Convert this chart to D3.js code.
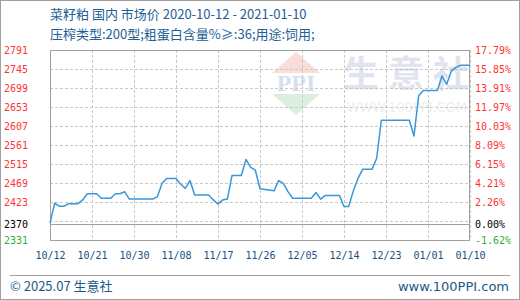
<!DOCTYPE html>
<html><head><meta charset="utf-8">
<script src="https://cdn.jsdelivr.net/npm/d3@7"></script>
<style>
html,body{margin:0;padding:0;background:#fff;}
svg{display:block;}
</style></head>
<body>
<svg id="c" width="520" height="300"></svg>
<script>
const titleText = "菜籽粕 国内 市场价 2020-10-12 - 2021-01-10";
const subText = "压榨类型:200型;粗蛋白含量%≥:36;用途:饲用;";
const dates = ["2020-10-12","2020-10-13","2020-10-14","2020-10-15","2020-10-16","2020-10-18","2020-10-19","2020-10-20","2020-10-22","2020-10-23","2020-10-25","2020-10-26","2020-10-27","2020-10-28","2020-10-29","2020-11-03","2020-11-04","2020-11-05","2020-11-06","2020-11-08","2020-11-09","2020-11-10","2020-11-11","2020-11-12","2020-11-15","2020-11-16","2020-11-17","2020-11-18","2020-11-19","2020-11-20","2020-11-22","2020-11-23","2020-11-24","2020-11-25","2020-11-26","2020-11-29","2020-11-30","2020-12-01","2020-12-02","2020-12-03","2020-12-07","2020-12-08","2020-12-09","2020-12-10","2020-12-13","2020-12-14","2020-12-15","2020-12-16","2020-12-17","2020-12-18","2020-12-20","2020-12-21","2020-12-22","2020-12-28","2020-12-29","2020-12-30","2020-12-31","2021-01-03","2021-01-04","2021-01-05","2021-01-06","2021-01-07","2021-01-08","2021-01-10"];
const prices = [2372,2420,2413,2413,2419,2419,2428,2443,2443,2432,2432,2443,2443,2448,2430,2430,2436,2468,2480,2480,2466,2456,2475,2440,2440,2428,2418,2428,2430,2487,2487,2526,2507,2500,2455,2450,2475,2468,2448,2432,2432,2446,2430,2439,2439,2412,2412,2450,2480,2502,2502,2529,2621,2621,2583,2680,2693,2693,2728,2708,2740,2749,2754,2754];
const xTickDates = ["2020-10-12","2020-10-21","2020-10-30","2020-11-08","2020-11-17","2020-11-26","2020-12-05","2020-12-14","2020-12-23","2021-01-01","2021-01-10"];
const xTickLabels = ["10/12","10/21","10/30","11/08","11/17","11/26","12/05","12/14","12/23","01/01","01/10"];
const yGridValues = [2791,2745,2699,2653,2607,2561,2515,2469,2423,2377];
const yTickValues = [2791,2745,2699,2653,2607,2561,2515,2469,2423,2370,2331];
const yTickLabels = ["2791","2745","2699","2653","2607","2561","2515","2469","2423","2370","2331"];
const pctLabels = ["17.79%","15.85%","13.91%","11.97%","10.03%","8.09%","6.15%","4.21%","2.26%","0.00%","-1.62%"];
const watermarkChars = ["生","意","社"];
const baseValue = 2370;
const yMin = 2331, yMax = 2791;

const parse = d3.timeParse("%Y-%m-%d");
const data = dates.map((d,i)=>({date:parse(d), v:prices[i]}));

const svg = d3.select("#c");
const L=50, R=470, T=50, B=240;
const x = d3.scaleTime().domain([parse("2020-10-12"), parse("2021-01-10")]).range([L,R]);
const y = d3.scaleLinear().domain([yMin,yMax]).range([B,T]);

// outer frame
svg.append("rect").attr("x",0.5).attr("y",0.5).attr("width",519).attr("height",299)
  .attr("fill","#fff").attr("stroke","#a0a0a0");

// watermark
const wm = svg.append("g");
wm.append("path").attr("d","M296,52 L320,73 L272,73 Z").attr("fill","#f9ddd6");
wm.append("text").attr("x",296).attr("y",91).attr("text-anchor","middle")
  .attr("font-family","Liberation Serif, serif").attr("font-weight","bold").attr("font-size",24)
  .attr("fill","#d8dfec").text("PPI");
wm.append("path").attr("d","M272,94 L320,94 L296,115 Z").attr("fill","#daefdf");
wm.selectAll("text.wc").data(watermarkChars).join("text").attr("class","wc")
  .attr("x",(d,i)=>361+i*45).attr("y",87).attr("text-anchor","middle")
  .attr("font-family","Noto Sans CJK SC").attr("font-weight","bold").attr("font-size",36)
  .attr("fill","#dfe4ee").text(d=>d);
wm.append("text").attr("x",347).attr("y",112)
  .attr("font-family","DejaVu Sans").attr("font-size",14).attr("textLength",120).attr("lengthAdjust","spacingAndGlyphs")
  .attr("fill","#eeeeee").text("WWW.100PPI.COM");

// grid
const grid = svg.append("g").attr("stroke","#c8c8c8").attr("stroke-dasharray","3,2").attr("stroke-width",1);
grid.selectAll("line.h").data(yGridValues).join("line")
  .attr("x1",L).attr("x2",R).attr("y1",d=>Math.round(y(d))+0.5).attr("y2",d=>Math.round(y(d))+0.5);
grid.selectAll("line.v").data(xTickDates).join("line")
  .attr("y1",T).attr("y2",B).attr("x1",d=>Math.round(x(parse(d)))+0.5).attr("x2",d=>Math.round(x(parse(d)))+0.5);

// base line
svg.append("line").attr("x1",L).attr("x2",R)
  .attr("y1",Math.round(y(baseValue))+0.5).attr("y2",Math.round(y(baseValue))+0.5)
  .attr("stroke","#a0a0a0");

// plot frame
svg.append("rect").attr("x",L+0.5).attr("y",T+0.5).attr("width",R-L-1).attr("height",B-T)
  .attr("fill","none").attr("stroke","#a0a0a0");

// line
svg.append("path").datum(data)
  .attr("d", d3.line().x(d=>x(d.date)).y(d=>y(d.v)))
  .attr("fill","none").attr("stroke","#3a98d8").attr("stroke-width",1.5).attr("stroke-linejoin","round");

// y labels
const colorFor = (i)=> i===yTickValues.length-1 ? "#33b033" : (yTickValues[i]===baseValue ? "#000" : "#ff3333");
const ax = svg.append("g").attr("transform",`translate(${L},0)`)
  .call(d3.axisLeft(y).tickValues(yTickValues).tickSize(0).tickPadding(22).tickFormat((d,i)=>yTickLabels[i]));
ax.select(".domain").remove();
ax.selectAll("text").attr("font-family","DejaVu Sans Mono, monospace").attr("font-size",10)
  .attr("fill",(d,i)=>colorFor(i));

const axR = svg.append("g").attr("transform",`translate(${R},0)`)
  .call(d3.axisRight(y).tickValues(yTickValues).tickSize(0).tickPadding(5).tickFormat((d,i)=>pctLabels[i]));
axR.select(".domain").remove();
axR.selectAll("text").attr("font-family","DejaVu Sans Mono, monospace").attr("font-size",10)
  .attr("fill",(d,i)=>colorFor(i));

// x labels
const axX = svg.append("g").attr("transform",`translate(0,${B})`)
  .call(d3.axisBottom(x).tickValues(xTickDates.map(parse)).tickSize(0).tickPadding(12).tickFormat((d,i)=>xTickLabels[i]));
axX.select(".domain").remove();
axX.selectAll("text").attr("font-family","DejaVu Sans Mono, monospace").attr("font-size",10).attr("fill","#1a5080");

// titles
svg.append("text").attr("x",50).attr("y",19).attr("font-family","Noto Sans CJK SC, sans-serif")
  .attr("font-size",13).attr("fill","#1c6096").text(titleText);
svg.append("text").attr("x",50).attr("y",39).attr("font-family","Noto Sans CJK SC, sans-serif")
  .attr("font-size",13).attr("fill","#1c6096").text(subText);

// footer
svg.append("line").attr("x1",10).attr("x2",510).attr("y1",275.5).attr("y2",275.5).attr("stroke","#a0a0a0");
svg.append("text").attr("x",10).attr("y",291).attr("font-family","Noto Sans CJK SC, sans-serif")
  .attr("font-size",13).attr("fill","#1a5a8a").text("© 2025.07 生意社");
svg.append("text").attr("x",509).attr("y",291).attr("text-anchor","end").attr("font-family","DejaVu Sans, sans-serif")
  .attr("font-size",13).attr("fill","#1a5a8a").text("www.100PPI.com");
</script>
</body></html>
